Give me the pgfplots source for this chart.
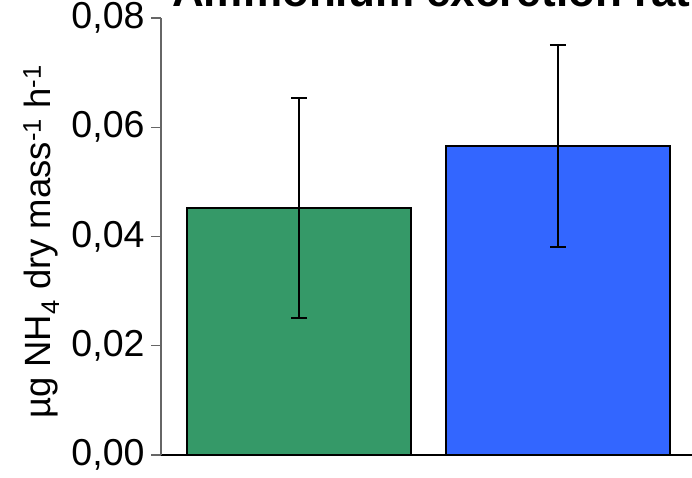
\documentclass[border=0pt]{standalone}
\usepackage{pgfplots}
\pgfplotsset{compat=1.18}
\usepackage{fontspec}
\setmainfont{Liberation Sans}
\definecolor{bargreen}{RGB}{53,153,104}
\definecolor{barblue}{RGB}{51,102,255}
\begin{document}
\begin{tikzpicture}
\begin{axis}[
  at={(161pt,22pt)}, anchor=south west,
  scale only axis, width=535pt, height=437pt,
  xmin=-0.533, xmax=1.533, ymin=0, ymax=0.08,
  axis x line*=bottom, axis y line*=left,
  x axis line style={line width=2pt, black, -},
  y axis line style={line width=1.3pt, gray!80!black, -},
  xtick=\empty,
  ytick={0,0.02,0.04,0.06,0.08},
  yticklabel style={/pgf/number format/fixed, /pgf/number format/precision=2, /pgf/number format/fixed zerofill, /pgf/number format/use comma, /pgf/number format/assume math mode=true, font=\fontsize{37.5}{42}\selectfont, xshift=-3pt},
  scaled y ticks=false,
  y tick style={line width=1.3pt, gray!80!black},
  tick align=outside, major tick length=10pt,
  ybar, bar width=224pt, bar shift=0pt,
  clip=false,
]
\addplot[fill=bargreen, draw=black, line width=2pt,
  error bars/.cd, y dir=both, y explicit, error bar style={line width=2pt, black}, error mark options={rotate=90, mark size=8pt, line width=2pt}]
  coordinates {(0,0.0452) +- (0,0.0202)};
\addplot[fill=barblue, draw=black, line width=2pt,
  error bars/.cd, y dir=both, y explicit, error bar style={line width=2pt, black}, error mark options={rotate=90, mark size=8pt, line width=2pt}]
  coordinates {(1,0.0566) +- (0,0.0185)};
\end{axis}
\node[rotate=90, anchor=base, font=\fontsize{36.5}{40}\selectfont, inner sep=0pt] at (50pt,235pt) {µg NH\textsubscript{4} dry mass\textsuperscript{-1} h\textsuperscript{-1}};
\node[anchor=base west, font=\fontsize{44}{48}\selectfont\bfseries, inner sep=0pt] at (172pt,470pt) {Ammonium excretion rate};
\pgfresetboundingbox
\path[use as bounding box] (0,0) rectangle (692pt,477pt);
\end{tikzpicture}
\end{document}
